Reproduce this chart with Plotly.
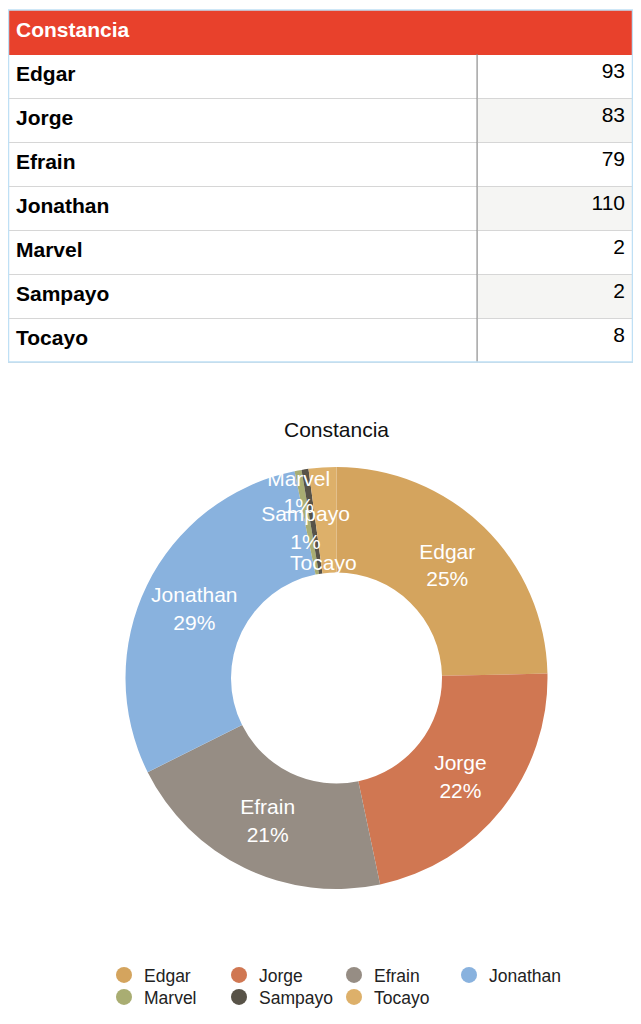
import plotly.graph_objects as go

# data
title = "Constancia"
names = ["Edgar", "Jorge", "Efrain", "Jonathan", "Marvel", "Sampayo", "Tocayo"]
counts = [93, 83, 79, 110, 2, 2, 8]
colors = ["#D4A45E", "#D07752", "#968D84", "#89B2DE", "#A9AD72", "#585348", "#DDB06A"]

# page has an 8px body margin, so the figure is a bit smaller than the window
W, H = 625, 1008
FONT = "Liberation Sans, Arial, Helvetica, sans-serif"


def px(x):
    return x / W


def py(y):
    return 1 - y / H


row_fill = [["white"] * len(names),
            ["#F5F5F3" if i % 2 else "white" for i in range(len(names))]]

fig = go.Figure()

fig.add_trace(go.Table(
    domain=dict(x=[0, 1], y=[py(360), py(2)]),
    columnwidth=[470, 156],
    header=dict(
        values=["<b>" + title + "</b>", ""],
        fill_color="#E8412C",
        line=dict(color="#E8412C", width=1),
        font=dict(family=FONT, size=21, color="white"),
        align="left",
        height=44,
    ),
    cells=dict(
        values=[["<b>" + n + "</b>" for n in names], [str(c) for c in counts]],
        fill_color=row_fill,
        line=dict(color="#D6D6D6", width=1),
        font=dict(family=FONT, size=21, color="black"),
        align=["left", "right"],
        height=44,
    ),
))

pie_domain = dict(x=[px(117.5), px(539.5)], y=[py(881), py(459)])
pie_common = dict(labels=names, values=counts, hole=0.5, sort=False,
                  direction="clockwise", rotation=0, domain=pie_domain,
                  showlegend=False)

# coloured ring
fig.add_trace(go.Pie(
    marker=dict(colors=colors, line=dict(width=0)),
    textinfo="none",
    **pie_common,
))

# labels on a transparent copy so no slice hides them;
# small slices get their labels pushed apart a little like the original
NB = "\u00a0<br>"
TINY = "<span style='font-size:1px'>\u00a0</span><br>"
templates = ["%{label}<br>%{percent:.0%}"] * 4 + [
    TINY + NB + "%{label}<br>%{percent:.0%}",
    NB * 4 + "%{label}<br>%{percent:.0%}",
    NB * 6 + "%{label}",
]
fig.add_trace(go.Pie(
    marker=dict(colors=["rgba(0,0,0,0)"] * len(names), line=dict(width=0)),
    texttemplate=templates,
    textposition="inside",
    insidetextorientation="horizontal",
    textfont=dict(family=FONT, size=21, color="white"),
    hoverinfo="skip",
    **pie_common,
))

# legend entries with round markers, two rows
for i, (n, c) in enumerate(zip(names, colors)):
    fig.add_trace(go.Scatter(
        x=[None], y=[None], mode="markers", name=n,
        marker=dict(color=c, size=16, symbol="circle"),
        legend="legend" if i < 4 else "legend2",
    ))

leg = dict(orientation="h", x=px(96), xanchor="left", yanchor="middle",
           font=dict(family=FONT, size=17.5, color="#222"),
           entrywidth=70, bgcolor="rgba(0,0,0,0)")

fig.update_layout(
    width=W, height=H,
    margin=dict(l=0, r=0, t=0, b=0),
    paper_bgcolor="white",
    plot_bgcolor="white",
    font=dict(family=FONT, color="#222"),
    title=dict(text=title, x=px(328.5), xanchor="center", y=py(422), yanchor="middle",
               font=dict(family=FONT, size=21, color="#111")),
    uniformtext=dict(minsize=21, mode="show"),
    xaxis=dict(visible=False),
    yaxis=dict(visible=False),
    legend=dict(leg, y=py(967)),
    legend2=dict(leg, y=py(989)),
    shapes=[
        dict(type="line", xref="paper", yref="paper",
             x0=px(469), x1=px(469), y0=py(46), y1=py(354),
             line=dict(color="#8A8A8A", width=1)),
        dict(type="rect", xref="paper", yref="paper",
             x0=px(0.5), x1=px(624.5), y0=py(354), y1=py(2),
             line=dict(color="#BFE0F5", width=1.5), fillcolor="rgba(0,0,0,0)"),
    ],
)

fig.write_html("out.html")
